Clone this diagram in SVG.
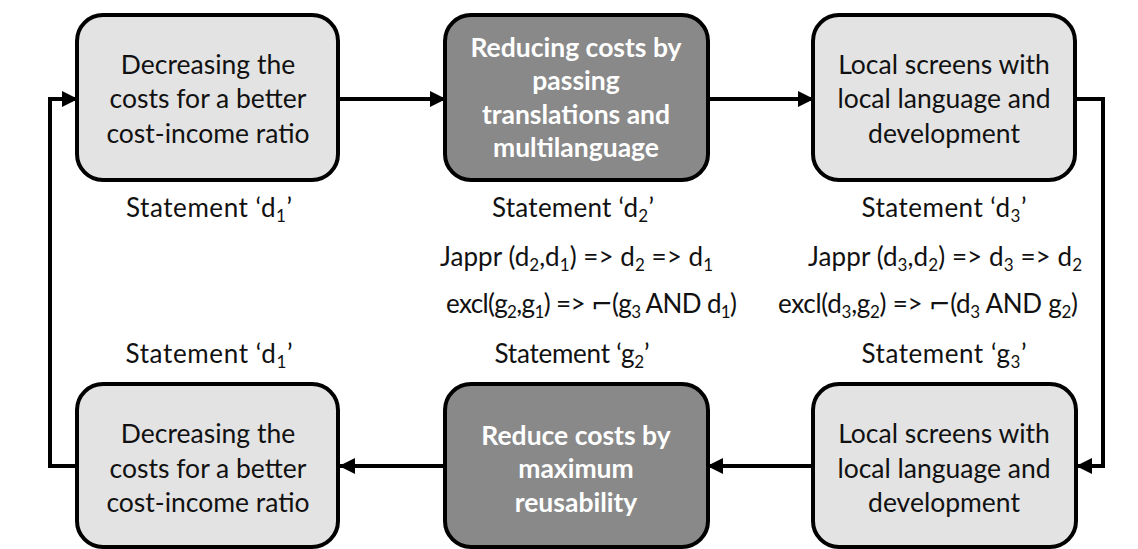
<svg xmlns="http://www.w3.org/2000/svg" width="1138" height="549" viewBox="0 0 1138 549">
  <defs>
    <marker id="arrow" markerUnits="userSpaceOnUse" markerWidth="16" markerHeight="16" viewBox="0 0 16 16" refX="15" refY="8" orient="auto">
      <path d="M0,0 L16,8 L0,16 Z" fill="#000"/>
    </marker>
  </defs>
  <style>
    .box-light { fill: #e3e3e3; stroke: #000; stroke-width: 4; }
    .box-dark { fill: #898989; stroke: #000; stroke-width: 4; }
    .t { font-family: Lato, "Liberation Sans", sans-serif; font-size: 26.5px; text-anchor: middle; fill: #111; }
    .tw { font-family: Lato, "Liberation Sans", sans-serif; font-size: 26.5px; font-weight: bold; text-anchor: middle; fill: #fff; }
    .s { font-family: Lato, "Liberation Sans", sans-serif; font-size: 26px; fill: #111; }
    .sub { font-size: 17px; }
    .neg { font-family: "DejaVu Sans", sans-serif; }
    .wire { fill: none; stroke: #000; stroke-width: 4; }
  </style>
  <rect width="1138" height="549" fill="#fff"/>

  <!-- connectors -->
  <g id="connectors">
    <path class="wire" d="M338,99 L445,99" marker-end="url(#arrow)"/>
    <path class="wire" d="M708,99 L813,99" marker-end="url(#arrow)"/>
    <path class="wire" d="M1075,99 L1103,99 L1103,466 L1077,466" marker-end="url(#arrow)"/>
    <path class="wire" d="M813,466 L708,466" marker-end="url(#arrow)"/>
    <path class="wire" d="M445,466 L340,466" marker-end="url(#arrow)"/>
    <path class="wire" d="M77,466 L50,466 L50,99 L77,99" marker-end="url(#arrow)"/>
  </g>

  <!-- top row -->
  <g id="node-d1-top">
    <rect class="box-light" x="77" y="15" width="261" height="165" rx="26"/>
    <text class="t" x="208" y="74">Decreasing the</text>
    <text class="t" x="208" y="108">costs for a better</text>
    <text class="t" x="208" y="143">cost-income ratio</text>
  </g>
  <g id="node-d2">
    <rect class="box-dark" x="445" y="15" width="263" height="165" rx="26"/>
    <text class="tw" x="576" y="57">Reducing costs by</text>
    <text class="tw" x="576" y="90">passing</text>
    <text class="tw" x="576" y="124">translations and</text>
    <text class="tw" x="576" y="157">multilanguage</text>
  </g>
  <g id="node-d3">
    <rect class="box-light" x="813" y="15" width="262" height="165" rx="26"/>
    <text class="t" x="944" y="74">Local screens with</text>
    <text class="t" x="944" y="108">local language and</text>
    <text class="t" x="944" y="143">development</text>
  </g>

  <!-- bottom row -->
  <g id="node-d1-bottom">
    <rect class="box-light" x="77" y="384" width="261" height="163" rx="26"/>
    <text class="t" x="208" y="443">Decreasing the</text>
    <text class="t" x="208" y="478">costs for a better</text>
    <text class="t" x="208" y="512">cost-income ratio</text>
  </g>
  <g id="node-g2">
    <rect class="box-dark" x="445" y="384" width="263" height="163" rx="26"/>
    <text class="tw" x="576" y="445">Reduce costs by</text>
    <text class="tw" x="576" y="478">maximum</text>
    <text class="tw" x="576" y="512">reusability</text>
  </g>
  <g id="node-g3">
    <rect class="box-light" x="813" y="384" width="263" height="163" rx="26"/>
    <text class="t" x="944" y="443">Local screens with</text>
    <text class="t" x="944" y="478">local language and</text>
    <text class="t" x="944" y="512">development</text>
  </g>

  <!-- statement labels -->
  <g id="labels">
    <text class="s" x="209" y="217" text-anchor="middle" textLength="166">Statement ‘d<tspan class="sub" dy="5">1</tspan><tspan dy="-5">’</tspan></text>
    <text class="s" x="573" y="217" text-anchor="middle" textLength="162">Statement ‘d<tspan class="sub" dy="5">2</tspan><tspan dy="-5">’</tspan></text>
    <text class="s" x="944" y="217" text-anchor="middle" textLength="165">Statement ‘d<tspan class="sub" dy="5">3</tspan><tspan dy="-5">’</tspan></text>

    <text class="s" x="440" y="266" textLength="273">Jappr (d<tspan class="sub" dy="5">2</tspan><tspan dy="-5">,d</tspan><tspan class="sub" dy="5">1</tspan><tspan dy="-5">) =&gt; d</tspan><tspan class="sub" dy="5">2</tspan><tspan dy="-5"> =&gt; d</tspan><tspan class="sub" dy="5">1</tspan></text>
    <text class="s" x="808" y="266" textLength="274">Jappr (d<tspan class="sub" dy="5">3</tspan><tspan dy="-5">,d</tspan><tspan class="sub" dy="5">2</tspan><tspan dy="-5">) =&gt; d</tspan><tspan class="sub" dy="5">3</tspan><tspan dy="-5"> =&gt; d</tspan><tspan class="sub" dy="5">2</tspan></text>

    <text class="s" x="446" y="313" textLength="291">excl(g<tspan class="sub" dy="5">2</tspan><tspan dy="-5">,g</tspan><tspan class="sub" dy="5">1</tspan><tspan dy="-5">) =&gt; </tspan><tspan class="neg">⌐</tspan>(g<tspan class="sub" dy="5">3</tspan><tspan dy="-5"> AND d</tspan><tspan class="sub" dy="5">1</tspan><tspan dy="-5">)</tspan></text>
    <text class="s" x="778" y="313" textLength="300">excl(d<tspan class="sub" dy="5">3</tspan><tspan dy="-5">,g</tspan><tspan class="sub" dy="5">2</tspan><tspan dy="-5">) =&gt; </tspan><tspan class="neg">⌐</tspan>(d<tspan class="sub" dy="5">3</tspan><tspan dy="-5"> AND g</tspan><tspan class="sub" dy="5">2</tspan><tspan dy="-5">)</tspan></text>

    <text class="s" x="209" y="363" text-anchor="middle" textLength="167">Statement ‘d<tspan class="sub" dy="5">1</tspan><tspan dy="-5">’</tspan></text>
    <text class="s" x="572" y="363" text-anchor="middle" textLength="155">Statement ‘g<tspan class="sub" dy="5">2</tspan><tspan dy="-5">’</tspan></text>
    <text class="s" x="944" y="363" text-anchor="middle" textLength="165">Statement ‘g<tspan class="sub" dy="5">3</tspan><tspan dy="-5">’</tspan></text>
  </g>
</svg>
